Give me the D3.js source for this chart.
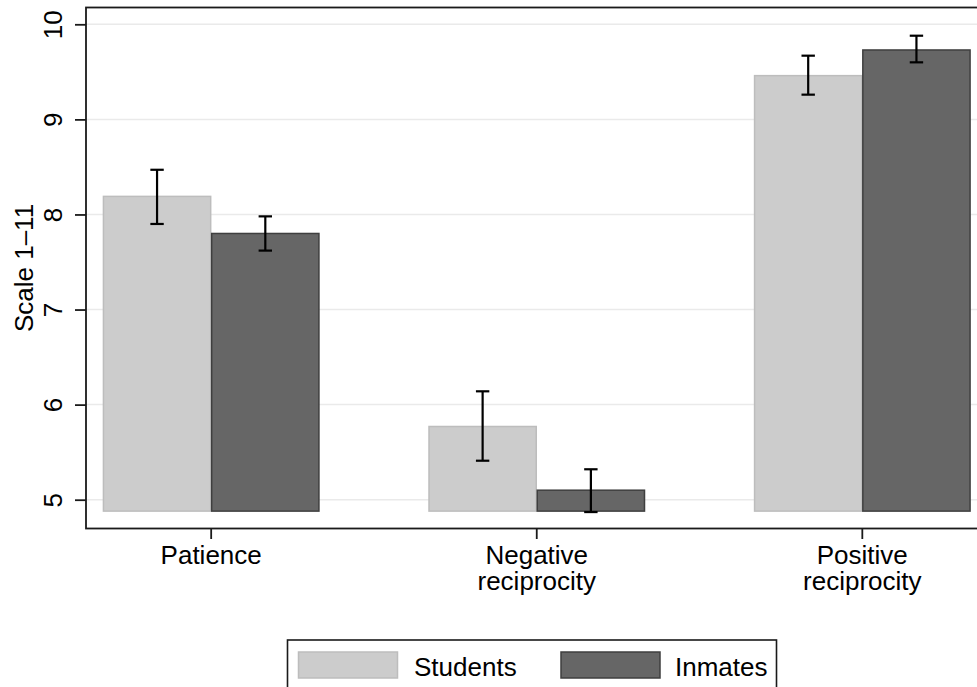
<!DOCTYPE html>
<html>
<head>
<meta charset="utf-8">
<script src="https://cdn.jsdelivr.net/npm/d3@7"></script>
<style>
  html, body { margin: 0; padding: 0; background: #fff; }
  svg { display: block; font-family: "Liberation Sans", Arial, Helvetica, sans-serif; }
</style>
</head>
<body>
<svg id="chart" width="977" height="687"></svg>
<script>
// ---- data ----
const categories = ["Patience", "Negative reciprocity", "Positive reciprocity"];
const categoryLines = [["Patience"], ["Negative", "reciprocity"], ["Positive", "reciprocity"]];
const seriesNames = ["Students", "Inmates"];
const studentsMean = [8.19, 5.77, 9.46];
const studentsLow  = [7.90, 5.41, 9.26];
const studentsHigh = [8.47, 6.14, 9.67];
const inmatesMean  = [7.80, 5.10, 9.73];
const inmatesLow   = [7.62, 4.87, 9.60];
const inmatesHigh  = [7.98, 5.32, 9.88];
const yTicks = [5, 6, 7, 8, 9, 10];
const barBase = 4.88;
const yTitle = "Scale 1\u201311";

// ---- styles ----
const fills = { Students: "#cccccc", Inmates: "#666666" };
const strokes = { Students: "#bdbdbd", Inmates: "#3f3f3f" };

const svg = d3.select("#chart");
const plot = { left: 86, top: 7.5, right: 987.5, bottom: 528.5 };

const y = d3.scaleLinear().domain([5, 10]).range([499.7, 24.3]);
const x = d3.scaleBand().domain(categories)
  .range([plot.left, plot.right]).paddingInner(0.335).paddingOuter(0.052);
const xs = d3.scaleBand().domain(seriesNames).range([0, x.bandwidth()]).padding(0);

const rows = [];
categories.forEach((c, i) => {
  rows.push({ cat: c, s: "Students", v: studentsMean[i], lo: studentsLow[i], hi: studentsHigh[i] });
  rows.push({ cat: c, s: "Inmates", v: inmatesMean[i], lo: inmatesLow[i], hi: inmatesHigh[i] });
});

// grid lines
svg.append("g").selectAll("line").data(yTicks).join("line")
  .attr("x1", plot.left).attr("x2", plot.right)
  .attr("y1", d => y(d)).attr("y2", d => y(d))
  .attr("stroke", "#eaeaea").attr("stroke-width", 1.5);

// bars
svg.append("g").selectAll("rect").data(rows).join("rect")
  .attr("x", d => x(d.cat) + xs(d.s) + 0.5)
  .attr("width", xs.bandwidth() - 1)
  .attr("y", d => y(d.v))
  .attr("height", d => y(barBase) - y(d.v))
  .attr("fill", d => fills[d.s])
  .attr("stroke", d => strokes[d.s])
  .attr("stroke-width", 1.5);

// error bars
const eb = svg.append("g").attr("stroke", "#000").attr("stroke-width", 2.2);
rows.forEach(d => {
  const cx = x(d.cat) + xs(d.s) + xs.bandwidth() / 2;
  eb.append("line").attr("x1", cx).attr("x2", cx).attr("y1", y(d.lo)).attr("y2", y(d.hi));
  eb.append("line").attr("x1", cx - 6.7).attr("x2", cx + 6.7).attr("y1", y(d.lo)).attr("y2", y(d.lo));
  eb.append("line").attr("x1", cx - 6.7).attr("x2", cx + 6.7).attr("y1", y(d.hi)).attr("y2", y(d.hi));
});

// frame
svg.append("rect")
  .attr("x", plot.left).attr("y", plot.top)
  .attr("width", plot.right - plot.left).attr("height", plot.bottom - plot.top)
  .attr("fill", "none").attr("stroke", "#1a1a1a").attr("stroke-width", 1.8);

// y axis
const yAxis = d3.axisLeft(y).tickValues(yTicks).tickSize(11).tickPadding(13).tickFormat(d3.format("d"));
const gy = svg.append("g").attr("transform", `translate(${plot.left},0)`).call(yAxis);
gy.select(".domain").remove();
gy.selectAll(".tick line").attr("stroke", "#1a1a1a").attr("stroke-width", 1.8);
gy.selectAll(".tick text")
  .attr("x", 0).attr("dy", null)
  .attr("transform", "translate(-24.5,0) rotate(-90)")
  .attr("text-anchor", "middle")
  .attr("fill", "#000")
  .style("font-size", "26px");

svg.append("text")
  .attr("transform", `translate(32.5,${(y(5) + y(10)) / 2 + 6}) rotate(-90)`)
  .attr("text-anchor", "middle")
  .attr("fill", "#000")
  .style("font-size", "26px")
  .text(yTitle);

// x axis
const xAxis = d3.axisBottom(x).tickSize(10.5).tickFormat("");
const gx = svg.append("g").attr("transform", `translate(0,${plot.bottom})`).call(xAxis);
gx.select(".domain").remove();
gx.selectAll(".tick line").attr("stroke", "#1a1a1a").attr("stroke-width", 1.8);
categories.forEach((c, i) => {
  const t = svg.append("text")
    .attr("x", x(c) + x.bandwidth() / 2)
    .attr("y", 564)
    .attr("text-anchor", "middle")
    .attr("fill", "#000")
    .style("font-size", "26px");
  categoryLines[i].forEach((ln, j) => {
    t.append("tspan").attr("x", x(c) + x.bandwidth() / 2).attr("dy", j === 0 ? 0 : 26).text(ln);
  });
});

// legend
const lg = svg.append("g");
lg.append("rect").attr("x", 287.5).attr("y", 640).attr("width", 489).attr("height", 80)
  .attr("fill", "#fff").attr("stroke", "#1a1a1a").attr("stroke-width", 1.6);
const legendPos = [{ kx: 298.5, tx: 414 }, { kx: 561, tx: 675 }];
seriesNames.forEach((s, i) => {
  lg.append("rect").attr("x", legendPos[i].kx).attr("y", 652)
    .attr("width", 99).attr("height", 26)
    .attr("fill", fills[s]).attr("stroke", strokes[s]).attr("stroke-width", 1.5);
  lg.append("text").attr("x", legendPos[i].tx).attr("y", 676)
    .attr("fill", "#000").style("font-size", "26px").text(s);
});
</script>
</body>
</html>
